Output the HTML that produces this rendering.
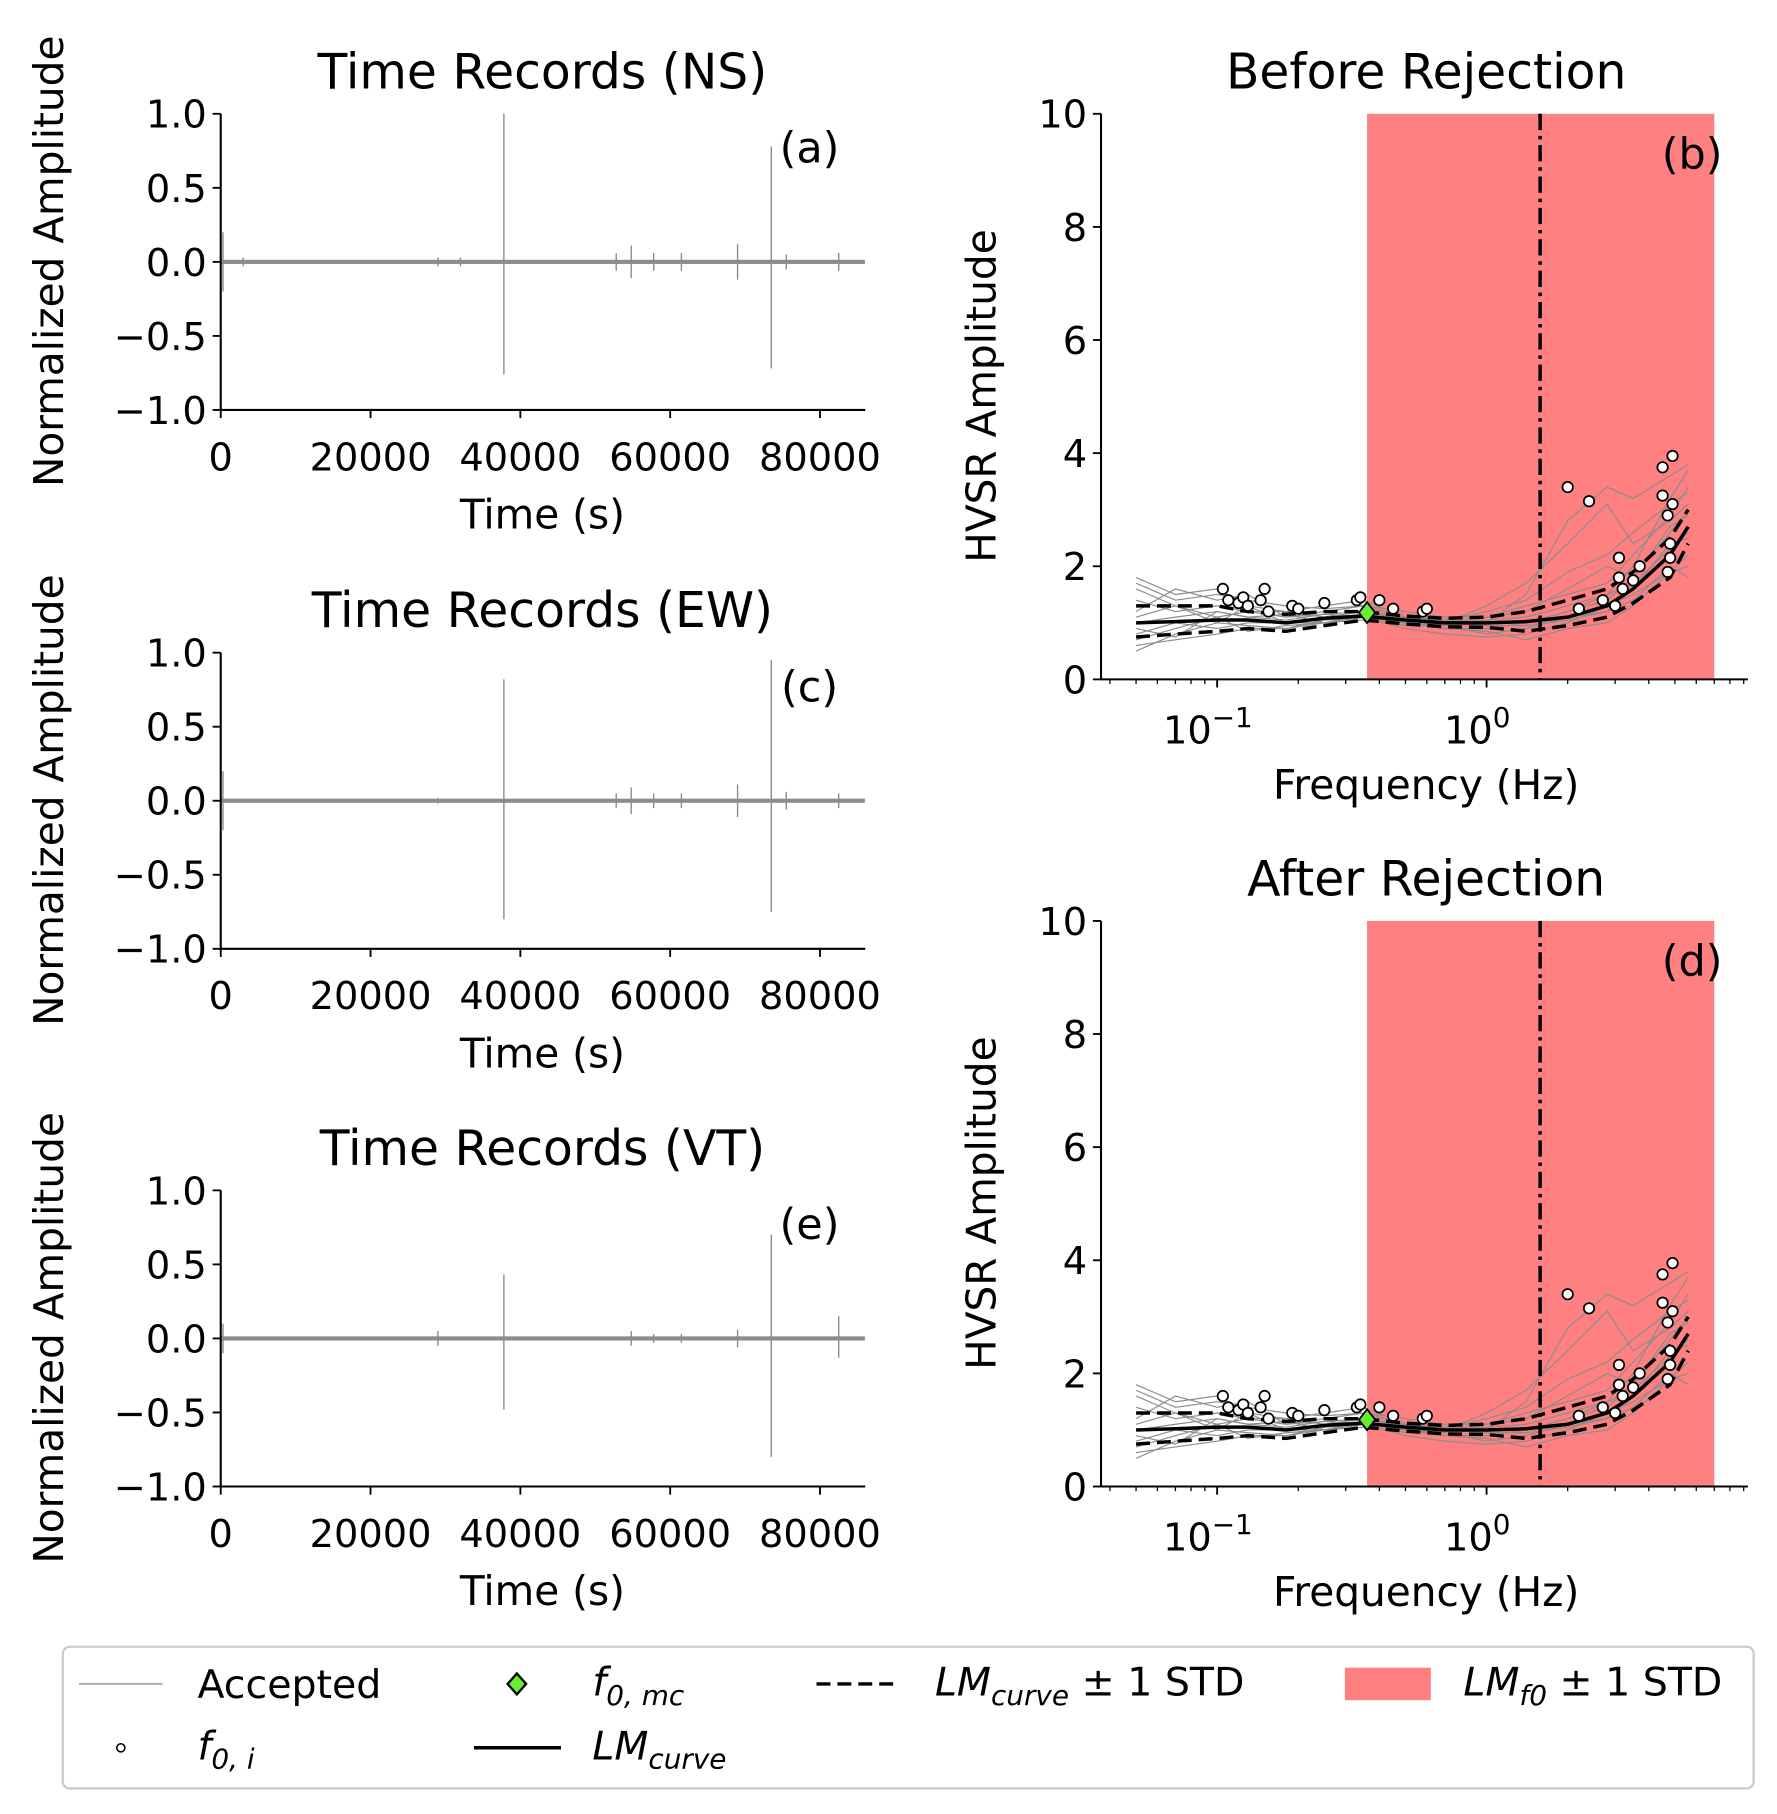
<!DOCTYPE html>
<html><head><meta charset="utf-8"><style>
html,body{margin:0;padding:0;background:#fff}
svg{display:block;font-family:"DejaVu Sans","Liberation Sans",sans-serif}
</style></head><body>
<svg id="fig" xmlns="http://www.w3.org/2000/svg" width="1777" height="1814" viewBox="0 0 1530 1562">
<rect width="1530" height="1562" fill="#fff"/>
<g id="root"></g>
</svg>
<script>
// ---- Time-record data ----
const spikeTimesNS = [300, 3000, 29000, 32000, 37800, 52800, 54800, 57800, 61500, 69000, 73500, 75500, 82500];
const spikeAmpsNS  = [0.2, 0.03, 0.03, 0.03, 1.0, 0.06, 0.11, 0.06, 0.06, 0.12, 0.78, 0.05, 0.06];
const spikeNegNS   = [-0.2, -0.03, -0.03, -0.03, -0.76, -0.06, -0.11, -0.06, -0.06, -0.12, -0.72, -0.05, -0.06];
const spikeTimesEW = [300, 29000, 37800, 52800, 54800, 57800, 61500, 69000, 73500, 75500, 82500];
const spikeAmpsEW  = [0.2, 0.02, 0.82, 0.05, 0.09, 0.05, 0.05, 0.11, 0.95, 0.06, 0.05];
const spikeNegEW   = [-0.2, -0.02, -0.8, -0.05, -0.09, -0.05, -0.05, -0.11, -0.75, -0.06, -0.05];
const spikeTimesVT = [300, 29000, 37800, 54800, 57800, 61500, 69000, 73500, 82500];
const spikeAmpsVT  = [0.1, 0.05, 0.43, 0.05, 0.03, 0.03, 0.06, 0.7, 0.15];
const spikeNegVT   = [-0.1, -0.05, -0.48, -0.05, -0.03, -0.03, -0.06, -0.8, -0.13];
const timeTicks = [0, 20000, 40000, 60000, 80000];
const ampTicks = [1.0, 0.5, 0.0, -0.5, -1.0];

// ---- HVSR data ----
const freqs = [0.05,0.07,0.1,0.13,0.18,0.25,0.35,0.5,0.7,1.0,1.4,2.0,2.8,3.5,4.8,5.6];
const meanCurve = [1.0,1.02,1.05,1.05,1.0,1.08,1.12,1.05,1.0,1.0,1.02,1.1,1.3,1.6,2.2,2.7];
const upperStd  = [1.3,1.3,1.3,1.2,1.15,1.2,1.2,1.12,1.08,1.1,1.2,1.4,1.6,1.9,2.5,3.0];
const lowerStd  = [0.75,0.8,0.85,0.9,0.85,0.95,1.05,0.98,0.93,0.92,0.85,0.95,1.1,1.35,1.8,2.4];
const gray1 = [1.8,1.5,1.6,1.3,1.2,1.3,1.4,1.1,1.0,1.0,1.5,2.8,3.4,3.2,3.6,3.8];
const gray2 = [0.6,0.7,0.8,0.9,0.9,1.0,1.1,0.9,0.8,0.75,0.8,1.0,1.3,1.5,1.9,2.0];
const gray3 = [1.2,1.6,1.4,1.5,1.1,1.2,1.3,1.2,1.1,1.1,1.2,1.6,2.0,1.8,2.6,3.0];
const gray4 = [0.8,1.0,0.9,1.0,1.0,1.0,1.1,1.0,0.9,0.9,1.0,1.2,1.5,2.0,3.2,3.7];
const gray5 = [1.4,1.2,1.3,1.2,1.2,1.1,1.2,1.1,1.0,1.3,1.7,2.4,3.1,2.4,2.8,3.1];
const gray6 = [0.5,0.8,1.0,0.95,0.9,1.05,1.1,1.0,0.95,0.8,0.9,1.1,1.2,1.4,2.0,1.8];
const gray7 = [1.0,1.1,1.2,1.1,1.05,1.15,1.2,1.05,1.05,1.2,1.4,1.9,2.2,2.6,3.1,3.3];
const gray8 = [1.6,1.3,1.1,1.2,1.1,1.15,1.1,1.0,1.0,1.05,1.1,1.3,1.5,1.7,2.3,2.6];
const gray9 = [1.7,1.4,1.5,1.4,1.3,1.25,1.3,1.1,1.05,1.0,1.0,1.2,1.4,1.8,2.7,2.9];
const gray10 = [0.7,0.9,1.1,0.85,0.95,1.0,1.15,1.05,0.9,0.85,0.7,0.9,1.0,1.3,1.9,2.2];
const gray11 = [1.1,1.3,1.0,1.3,1.0,1.1,1.15,0.95,1.0,1.1,1.3,1.5,1.7,2.2,2.9,3.4];
const gray12 = [0.9,0.75,1.2,1.1,1.15,1.0,1.05,1.1,1.0,0.95,0.95,1.05,1.2,1.6,2.4,2.5];
const grayCurves = [gray1,gray2,gray3,gray4,gray5,gray6,gray7,gray8,gray9,gray10,gray11,gray12];
const f0iFreq = [0.105,0.11,0.12,0.125,0.13,0.15,0.145,0.155,0.19,0.2,0.25,0.33,0.34,0.4,0.45,0.58,0.6,2.0,2.4,3.1,3.1,3.2,3.5,3.7,4.5,4.5,4.7,4.9,4.9,4.8,4.8,4.7,3.0,2.2,2.7];
const f0iAmp  = [1.6,1.4,1.35,1.45,1.3,1.6,1.4,1.2,1.3,1.25,1.35,1.4,1.45,1.4,1.25,1.2,1.25,3.4,3.15,2.15,1.8,1.6,1.75,2.0,3.75,3.25,2.9,3.95,3.1,2.4,2.15,1.9,1.3,1.25,1.4];
const f0mcFreq = [0.36];
const f0mcAmp = [1.18];
const f0Band = [0.36, 7.0];
const f0Line = [1.58];
const hvsrTicks = [0,2,4,6,8,10];

const NS='http://www.w3.org/2000/svg';
const root=document.getElementById('root');
function mk(tag,attrs,parent){const e=document.createElementNS(NS,tag);for(const k in attrs)e.setAttribute(k,attrs[k]);(parent||root).appendChild(e);return e;}
function txt(s,attrs,parent){const e=mk('text',attrs,parent);e.textContent=s;return e;}

// ---- Time panels ----
function timePanel(top,title,label,times,pos,neg,name){
  const g=mk('g',{});
  
  
  const x0=190,x1=745,yTop=top,yBot=top+255;
  const X=t=>x0+(t/20000)*129;
  const Y=a=>yTop+(1-a)/2*(yBot-yTop);
  const band=mk('rect',{x:x0,y:Y(0.014),width:X(86000)-x0,height:Y(-0.014)-Y(0.014),fill:'#8c8c8c'},g);
  
  
  for(let i=0;i<times.length;i++){
    const l=mk('line',{x1:X(times[i]),x2:X(times[i]),y1:Y(pos[i]),y2:Y(neg[i]),stroke:'#8c8c8c','stroke-width':1.2},g);
    
    
  }
  mk('line',{x1:x0,x2:x0,y1:yTop,y2:yBot,stroke:'#000','stroke-width':1.8},g);
  mk('line',{x1:x0,x2:x1,y1:yBot,y2:yBot,stroke:'#000','stroke-width':1.8},g);
  ampTicks.forEach(a=>{mk('line',{x1:x0-7,x2:x0,y1:Y(a),y2:Y(a),stroke:'#000','stroke-width':1.6},g);
    const t=txt((a<0?'\u2212':'')+Math.abs(a).toFixed(1),{x:x0-12,y:Y(a)+12,'font-size':33,'text-anchor':'end'},g);
    });
  timeTicks.forEach(tv=>{mk('line',{x1:X(tv),x2:X(tv),y1:yBot,y2:yBot+7,stroke:'#000','stroke-width':1.6},g);
    const t=txt(String(tv),{x:X(tv),y:yBot+52,'font-size':33,'text-anchor':'middle'},g);
    });
  const tt=txt(title,{x:467,y:top-22,'font-size':42,'text-anchor':'middle'},g);
  
  const xl=txt('Time (s)',{x:467,y:yBot+102,'font-size':35,'text-anchor':'middle'},g);
  
  const yl=txt('Normalized Amplitude',{x:0,y:0,'font-size':35,'text-anchor':'middle',transform:`translate(54,${top+127}) rotate(-90)`},g);
  
  const pl=txt(label,{x:697,y:top+42,'font-size':37,'text-anchor':'middle'},g);
  
}
timePanel(98,'Time Records (NS)','(a)',spikeTimesNS,spikeAmpsNS,spikeNegNS,'ns-panel');
timePanel(562,'Time Records (EW)','(c)',spikeTimesEW,spikeAmpsEW,spikeNegEW,'ew-panel');
timePanel(1025,'Time Records (VT)','(e)',spikeTimesVT,spikeAmpsVT,spikeNegVT,'vt-panel');

// ---- HVSR panels ----
function hvsrPanel(top,title,label,name){
  const g=mk('g',{});
  
  
  const x0=948,x1=1505,yTop=top,yBot=top+487;
  const X=f=>1280+Math.log10(f)*232;
  const Y=a=>yBot-a/10*(yBot-yTop);
  const bd=mk('rect',{x:X(f0Band[0]),y:yTop,width:X(f0Band[1])-X(f0Band[0]),height:yBot-yTop,fill:'#ff8080'},g);
  
  const path=arr=>arr.map((v,i)=>(i?'L':'M')+X(freqs[i]).toFixed(1)+','+Y(v).toFixed(1)).join('');
  grayCurves.forEach(c=>{const p=mk('path',{d:path(c),fill:'none',stroke:'#8c8c8c','stroke-width':1},g);
    });
  const up=mk('path',{d:path(upperStd),fill:'none',stroke:'#000','stroke-width':3,'stroke-dasharray':'12,6'},g);
  
  const lo=mk('path',{d:path(lowerStd),fill:'none',stroke:'#000','stroke-width':3,'stroke-dasharray':'12,6'},g);
  
  const mn=mk('path',{d:path(meanCurve),fill:'none',stroke:'#000','stroke-width':3},g);
  
  for(let i=0;i<f0iFreq.length;i++){const c=mk('circle',{cx:X(f0iFreq[i]),cy:Y(f0iAmp[i]),r:4.5,fill:'#fff',stroke:'#000','stroke-width':1.5},g);
    }
  const fl=mk('line',{x1:X(f0Line[0]),x2:X(f0Line[0]),y1:yTop,y2:yBot,stroke:'#000','stroke-width':3,'stroke-dasharray':'14,5,3,5'},g);
  
  const dx=X(f0mcFreq[0]),dy=Y(f0mcAmp[0]);
  const dm=mk('path',{d:`M${dx},${dy-9}L${dx+7},${dy}L${dx},${dy+9}L${dx-7},${dy}Z`,fill:'#66ee33',stroke:'#000','stroke-width':1.5},g);
  
  mk('line',{x1:x0,x2:x0,y1:yTop,y2:yBot,stroke:'#000','stroke-width':1.8},g);
  mk('line',{x1:x0,x2:x1,y1:yBot,y2:yBot,stroke:'#000','stroke-width':1.8},g);
  hvsrTicks.forEach(a=>{mk('line',{x1:x0-7,x2:x0,y1:Y(a),y2:Y(a),stroke:'#000','stroke-width':1.6},g);
    const t=txt(String(a),{x:x0-12,y:Y(a)+12,'font-size':33,'text-anchor':'end'},g);
    });
  for(let d=-2;d<=0;d++)for(let m=1;m<10;m++){const f=m*Math.pow(10,d);const x=X(f);if(x<x0||x>x1)continue;
    mk('line',{x1:x,x2:x,y1:yBot,y2:yBot+(m===1?7:4),stroke:'#000','stroke-width':m===1?1.6:1.1},g);}
  [[-1,0.1],[0,1]].forEach(([e,f])=>{const t=txt('10',{x:X(f)-8,y:yBot+55,'font-size':33,'text-anchor':'middle'},g);
    const s=mk('tspan',{dy:-14,'font-size':24},t);s.textContent=e<0?'\u22121':'0';
    });
  const tt=txt(title,{x:1228,y:top-22,'font-size':42,'text-anchor':'middle'},g);
  
  const xl=txt('Frequency (Hz)',{x:1228,y:yBot+103,'font-size':35,'text-anchor':'middle'},g);
  
  const yl=txt('HVSR Amplitude',{x:0,y:0,'font-size':35,'text-anchor':'middle',transform:`translate(857,${top+243}) rotate(-90)`},g);
  
  const pl=txt(label,{x:1457,y:top+47,'font-size':37,'text-anchor':'middle'},g);
  
}
hvsrPanel(98,'Before Rejection','(b)','before-rejection-panel');
hvsrPanel(793,'After Rejection','(d)','after-rejection-panel');
</script>
<svg style="position:absolute;left:0;top:0" width="1777" height="1814" viewBox="0 0 1530 1562" font-family="DejaVu Sans, Liberation Sans, sans-serif">
<rect x="54" y="1418" width="1456" height="122" rx="6" fill="#fff" stroke="#ccc" stroke-width="2"/>
<g font-size="34">
<line x1="68" x2="140" y1="1450" y2="1450" stroke="#8c8c8c" stroke-width="1.2"/>
<text x="170" y="1462">Accepted</text>
<circle cx="104" cy="1505" r="3.5" fill="#fff" stroke="#000" stroke-width="1.3"/>
<text x="170" y="1515" font-style="italic">f<tspan dy="8" font-size="24">0, i</tspan></text>
<path d="M445,1441 L453,1450 L445,1459 L437,1450Z" fill="#66ee33" stroke="#000" stroke-width="2"/>
<text x="510" y="1460" font-style="italic">f<tspan dy="8" font-size="24">0, mc</tspan></text>
<line x1="408" x2="483" y1="1505" y2="1505" stroke="#000" stroke-width="3"/>
<text x="510" y="1515" font-style="italic">LM<tspan dy="8" font-size="24">curve</tspan></text>
<line x1="703" x2="770" y1="1450" y2="1450" stroke="#000" stroke-width="3" stroke-dasharray="12,6"/>
<text x="805" y="1460"><tspan font-style="italic">LM</tspan><tspan dy="8" font-size="24" font-style="italic">curve</tspan><tspan dy="-8"> ± 1 STD</tspan></text>
<rect x="1158" y="1436" width="74" height="28" fill="#ff8080"/>
<text x="1260" y="1460"><tspan font-style="italic">LM</tspan><tspan dy="8" font-size="24" font-style="italic">f0</tspan><tspan dy="-8"> ± 1 STD</tspan></text>
</g>
</svg>
</body></html>
